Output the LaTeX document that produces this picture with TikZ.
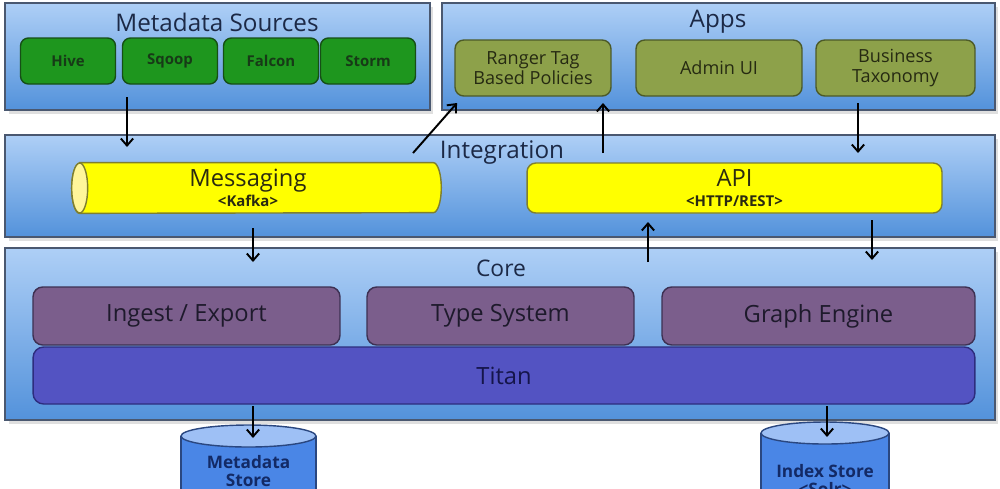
\documentclass[tikz,border=0pt]{standalone}
\usepackage{fontspec}
\setmainfont{Open Sans}
\usetikzlibrary{arrows.meta,calc,shadows}
\definecolor{laytop}{HTML}{AECFF6}
\definecolor{laybot}{HTML}{5392DB}
\definecolor{laybord}{HTML}{4A5870}
\definecolor{titlecol}{HTML}{1C2946}
\definecolor{grn}{HTML}{1E961E}
\definecolor{grnb}{HTML}{164F16}
\definecolor{grnt}{HTML}{173A17}
\definecolor{olv}{HTML}{8DA14A}
\definecolor{olvb}{HTML}{4C5A28}
\definecolor{olvt}{HTML}{262A12}
\definecolor{ylw}{HTML}{FFFF00}
\definecolor{ylwend}{HTML}{FFF69A}
\definecolor{ylwb}{HTML}{7F7F2E}
\definecolor{ylwt}{HTML}{2A2A10}
\definecolor{prp}{HTML}{7B5E8C}
\definecolor{prpb}{HTML}{3D3052}
\definecolor{prpt}{HTML}{1E1A2C}
\definecolor{ttn}{HTML}{5353C2}
\definecolor{ttnb}{HTML}{2D2D7E}
\definecolor{ttnt}{HTML}{15154A}
\definecolor{cylbody}{HTML}{4A86E6}
\definecolor{cyltop}{HTML}{9EC0F5}
\definecolor{cylb}{HTML}{2A4780}
\definecolor{cylt}{HTML}{132A66}
\tikzset{
  layer/.style={draw=laybord, line width=0.8pt, top color=laytop, bottom color=laybot,
    drop shadow={opacity=0.25, shadow xshift=2pt, shadow yshift=-2pt}},
  ttl/.style={text=titlecol, font=\fontsize{13.8}{16}\selectfont},
  srcbox/.style={draw=grnb, line width=0.8pt, fill=grn, rounded corners=4.5pt,
    minimum width=1.9cm, minimum height=0.92cm, text=grnt, font=\bfseries\fontsize{8.5}{10}\selectfont},
  appbox/.style={draw=olvb, line width=0.8pt, fill=olv, rounded corners=5pt,
    minimum height=1.12cm, text=olvt, align=center, font=\fontsize{10.3}{11.5}\selectfont},
  corebox/.style={draw=prpb, line width=0.8pt, fill=prp, rounded corners=5.5pt,
    minimum height=1.16cm, text=prpt, font=\fontsize{13.5}{15}\selectfont},
  arr/.style={draw=black, line width=1.1pt, -{Straight Barb[length=4pt,width=7pt,line width=1.1pt]}},
  storetxt/.style={text=cylt, align=center, font=\bfseries\fontsize{9.8}{10.6}\selectfont},
}
\begin{document}
\begin{tikzpicture}[x=0.02cm,y=-0.02cm]
\useasboundingbox (0,0) rectangle (1000,488);
\clip (0,0) rectangle (1000,488);
\fill[white] (0,0) rectangle (1000,488);

% layers
\node[layer, minimum width=8.5cm, minimum height=2.14cm] (ms) at (217.5,56.5) {};
\node[layer, minimum width=11.06cm, minimum height=2.14cm] (apps) at (718.5,56.5) {};
\node[layer, minimum width=19.8cm, minimum height=2.04cm] (integ) at (500,186) {};
\node[layer, minimum width=19.8cm, minimum height=3.44cm] (core) at (500,334) {};

% titles
\node[ttl] (msttl) at (217,22) {Metadata Sources};
\node[ttl] (appsttl) at (718,22) {Apps};
\node[ttl] (integttl) at (502,153) {Integration};
\node[ttl, font=\fontsize{13}{15}\selectfont] (corettl) at (501,268) {Core};

% metadata sources
\node[srcbox] (hive) at (68,61) {Hive};
\node[srcbox] (sqoop) at (170,61) {Sqoop};
\node[srcbox] (falcon) at (271,61) {Falcon};
\node[srcbox] (storm) at (368,61) {Storm};

% apps
\node[appbox, minimum width=3.12cm] (ranger) at (533,68) {Ranger Tag\\Based Policies};
\node[appbox, minimum width=3.32cm] (admin) at (719,68) {Admin UI};
\node[appbox, minimum width=3.18cm] (biz) at (895.5,68) {Business\\Taxonomy};

% integration: messaging pipe
\node[minimum width=7.38cm, minimum height=1cm, inner sep=0pt] (msg) at (256.5,188) {};
\path[draw=ylwb, line width=0.8pt, fill=ylw]
  ([xshift=0.16cm]msg.north west) -- ([xshift=-0.16cm]msg.north east)
  arc[start angle=90, end angle=-90, x radius=0.16cm, y radius=0.5cm]
  -- ([xshift=0.16cm]msg.south west)
  arc[start angle=270, end angle=90, x radius=0.16cm, y radius=0.5cm] -- cycle;
\path[draw=ylwb, line width=0.8pt, fill=ylwend]
  ([xshift=0.16cm]msg.west) ellipse [x radius=0.16cm, y radius=0.5cm];
\node[text=ylwt, align=center] (msgtxt) at (248,188)
  {{\fontsize{13.5}{14}\selectfont Messaging}\\[-1pt]{\fontsize{8.5}{9}\selectfont\bfseries <Kafka>}};
\node[draw=ylwb, line width=0.8pt, fill=ylw, rounded corners=5pt, minimum width=8.3cm,
  minimum height=1cm, text=ylwt, align=center] (api) at (734.5,188)
  {{\fontsize{13.5}{14}\selectfont API}\\[-1pt]{\fontsize{8.5}{9}\selectfont\bfseries <HTTP/REST>}};

% core
\node[corebox, minimum width=6.14cm] (ingest) at (186.5,316) {Ingest / Export};
\node[corebox, minimum width=5.34cm] (types) at (500.5,316) {Type System};
\node[corebox, minimum width=6.26cm] (graph) at (818.5,316) {Graph Engine};
\node[draw=ttnb, line width=0.8pt, fill=ttn, rounded corners=6pt, minimum width=18.84cm,
  minimum height=1.14cm, text=ttnt, font=\fontsize{13.5}{15}\selectfont] (titan) at (504,375.5) {Titan};

% stores
\fill[cylbody] (181,436) rectangle (316,530);
\draw[cylb, line width=0.8pt] (181,436) -- (181,530) (316,436) -- (316,530);
\draw[cylb, line width=0.8pt, fill=cyltop] (248.5,436) ellipse [x radius=1.35cm, y radius=0.22cm];
\node[storetxt] (mstore) at (248.5,471) {Metadata\\Store};

\fill[cylbody] (761,433) rectangle (889,530);
\draw[cylb, line width=0.8pt] (761,433) -- (761,530) (889,433) -- (889,530);
\draw[cylb, line width=0.8pt, fill=cyltop] (825,433) ellipse [x radius=1.28cm, y radius=0.22cm];
\node[storetxt] (istore) at (825,480) {Index Store\\<Solr>};

% arrow end points
\coordinate (a1s) at (127,97);   \coordinate (a1e) at (127,147);
\coordinate (a2s) at (413,153);  \coordinate (a2e) at (457,103);
\coordinate (a3s) at (603,153);  \coordinate (a3e) at (603,103);
\coordinate (a4s) at (858,103);  \coordinate (a4e) at (858,153);
\coordinate (a5s) at (253,228);  \coordinate (a5e) at (253,262);
\coordinate (a6s) at (648,262);  \coordinate (a6e) at (648,222);
\coordinate (a7s) at (872,220);  \coordinate (a7e) at (872,260);
\coordinate (a8s) at (253,406);  \coordinate (a8e) at (253,438);
\coordinate (a9s) at (827,406);  \coordinate (a9e) at (827,437);

\draw[arr] (a1s) -- (a1e);
\draw[arr] (a2s) -- (a2e);
\draw[arr] (a3s) -- (a3e);
\draw[arr] (a4s) -- (a4e);
\draw[arr] (a5s) -- (a5e);
\draw[arr] (a6s) -- (a6e);
\draw[arr] (a7s) -- (a7e);
\draw[arr] (a8s) -- (a8e);
\draw[arr] (a9s) -- (a9e);
\end{tikzpicture}
\end{document}
